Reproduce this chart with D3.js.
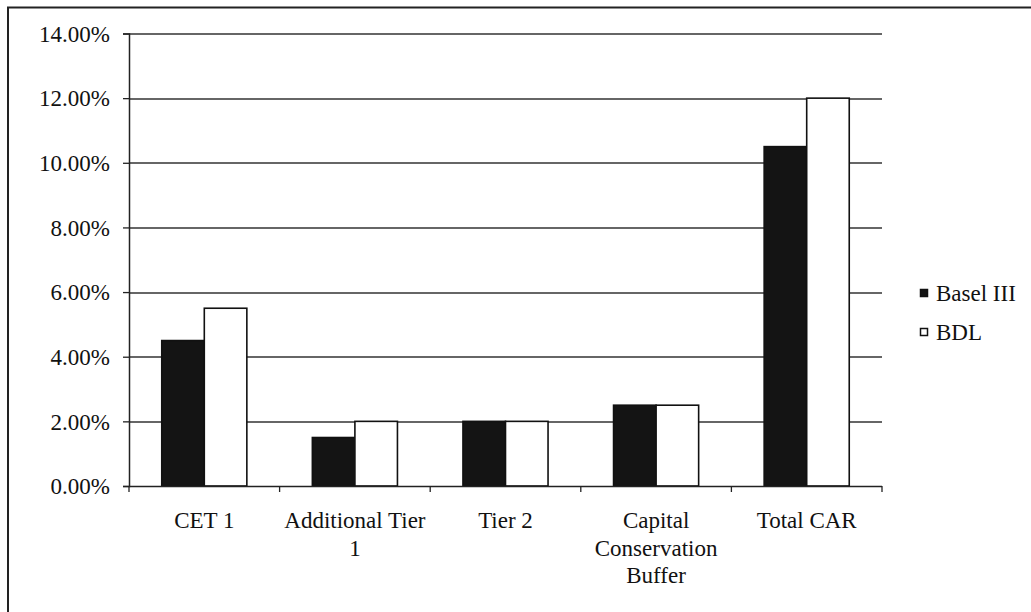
<!DOCTYPE html>
<html>
<head>
<meta charset="utf-8">
<script src="https://cdn.jsdelivr.net/npm/d3@7"></script>
<style>
  html, body { margin: 0; padding: 0; background: #fff; }
  svg text { font-family: "Liberation Serif", "Tinos", "Times New Roman", Times, "Nimbus Roman", "DejaVu Serif", serif; fill: #111; }
</style>
</head>
<body>
<svg id="chart" width="1031" height="612"></svg>
<script>
// Minimum capital requirements, Basel III vs. BDL
const categories = [
  ["CET 1"],
  ["Additional Tier", "1"],
  ["Tier 2"],
  ["Capital", "Conservation", "Buffer"],
  ["Total CAR"]
];
const seriesNames = ["Basel III", "BDL"];
const baselIII = [4.5, 1.5, 2.0, 2.5, 10.5];
const bdl = [5.5, 2.0, 2.0, 2.5, 12.0];
const yTicks = [0, 2, 4, 6, 8, 10, 12, 14];
const seriesFill = ["#141414", "#ffffff"];

const svg = d3.select("#chart");
const W = 1031, H = 612;
const margin = { left: 129, right: 149, top: 33.5, bottom: 126 };
const plotW = W - margin.left - margin.right;
const plotH = H - margin.top - margin.bottom;

// outer frame
svg.append("rect")
  .attr("x", 8).attr("y", 7.5)
  .attr("width", 1040).attr("height", 620)
  .attr("fill", "none").attr("stroke", "#222").attr("stroke-width", 2);

const g = svg.append("g").attr("transform", `translate(${margin.left},${margin.top})`);

const x0 = d3.scaleBand().domain(d3.range(categories.length)).range([0, plotW]).paddingInner(0.435).paddingOuter(0.2175);
const x1 = d3.scaleBand().domain(d3.range(seriesNames.length)).range([0, x0.bandwidth()]);
const y = d3.scaleLinear().domain([0, 14]).range([plotH, 0]);

// horizontal gridlines
g.append("g").selectAll("line").data(yTicks.filter(t => t > 0)).join("line")
  .attr("x1", 0).attr("x2", plotW)
  .attr("y1", d => Math.round(y(d)) + 0.5).attr("y2", d => Math.round(y(d)) + 0.5)
  .attr("stroke", "#333").attr("stroke-width", 1.3);

// y axis
const yAxis = g.append("g")
  .call(d3.axisLeft(y).tickValues(yTicks).tickSize(6).tickPadding(13).tickFormat(d => d.toFixed(2) + "%"));
yAxis.attr("font-family", null);
yAxis.select(".domain").attr("stroke", "#222").attr("stroke-width", 1.5);
yAxis.selectAll(".tick line").attr("stroke", "#222").attr("stroke-width", 1.3);
yAxis.selectAll(".tick text")
  .attr("font-size", 23).attr("fill", "#111").attr("dy", "0.34em");

// bars
const values = [baselIII, bdl];
const groups = g.append("g").selectAll("g").data(categories.map((c, i) => i)).join("g")
  .attr("transform", i => `translate(${x0(i)},0)`);
groups.selectAll("rect").data(i => values.map((v, s) => ({ s, v: v[i] }))).join("rect")
  .attr("x", d => x1(d.s))
  .attr("y", d => y(d.v))
  .attr("width", x1.bandwidth())
  .attr("height", d => plotH - y(d.v))
  .attr("fill", d => seriesFill[d.s])
  .attr("stroke", "#111").attr("stroke-width", 1.6);

// x axis with ticks between categories
const xAxisG = g.append("g").attr("transform", `translate(0,${plotH})`);
xAxisG.append("line").attr("x1", 0).attr("x2", plotW).attr("y1", 0.5).attr("y2", 0.5)
  .attr("stroke", "#222").attr("stroke-width", 1.5);
const step = x0.step();
xAxisG.selectAll("line.tk").data(d3.range(categories.length + 1)).join("line")
  .attr("class", "tk")
  .attr("x1", i => i * step).attr("x2", i => i * step)
  .attr("y1", 0).attr("y2", 6)
  .attr("stroke", "#222").attr("stroke-width", 1.3);

// category labels
const labels = xAxisG.selectAll("text.cat").data(categories).join("text")
  .attr("class", "cat")
  .attr("x", (d, i) => x0(i) + x0.bandwidth() / 2)
  .attr("y", 42)
  .attr("text-anchor", "middle")
  .attr("font-size", 23);
labels.selectAll("tspan").data(d => d).join("tspan")
  .attr("x", function () { return d3.select(this.parentNode).attr("x"); })
  .attr("dy", (d, j) => j === 0 ? 0 : 27.5)
  .text(d => d);

// legend
const legend = svg.append("g").attr("transform", "translate(920,289)");
const li = legend.selectAll("g").data(seriesNames).join("g")
  .attr("transform", (d, i) => `translate(0,${i * 39})`);
li.append("rect").attr("x", 0.5).attr("y", 0.5).attr("width", 7).attr("height", 7)
  .attr("fill", (d, i) => seriesFill[i]).attr("stroke", "#111").attr("stroke-width", 1.5);
li.append("text").attr("x", 16).attr("y", 4).attr("dy", "0.36em")
  .attr("font-size", 23).text(d => d);
</script>
</body>
</html>
